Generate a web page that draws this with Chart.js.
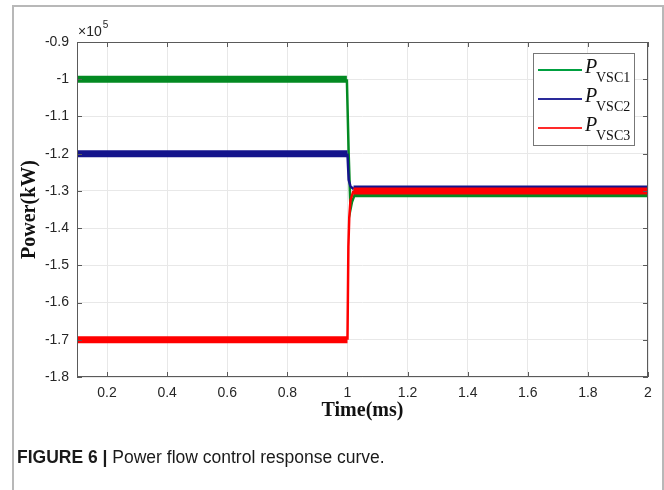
<!DOCTYPE html>
<html>
<head>
<meta charset="utf-8">
<script src="https://cdn.jsdelivr.net/npm/chart.js@4.4.0/dist/chart.umd.min.js"></script>
<style>
  html, body { margin: 0; padding: 0; background: #fff; }
  #wrap { position: relative; width: 664px; height: 490px; overflow: hidden; }
  #frame { position: absolute; left: 12px; top: 5px; width: 648px; height: 520px;
           border: 2px solid #b8b8b8; border-bottom: none; }
  #graph { position: absolute; left: 0; top: 0; }
  #caption { position: absolute; left: 17px; top: 447px; font: 17.5px "Liberation Sans", Arial, sans-serif;
             color: #1a1a1a; white-space: nowrap; }
  #caption b { font-weight: bold; }
</style>
</head>
<body>
<div id="wrap">
  <div id="frame"></div>
  <canvas id="graph" width="664" height="490"></canvas>
  <div id="caption"><b>FIGURE 6 |</b> Power flow control response curve.</div>
</div>
<script>
// tick values
const xTicks = [0.2, 0.4, 0.6, 0.8, 1, 1.2, 1.4, 1.6, 1.8, 2];
const yTicks = [-0.9, -1, -1.1, -1.2, -1.3, -1.4, -1.5, -1.6, -1.7, -1.8];

// series (units of 1e5 kW)
const timeVsc1 = [0.1, 0.998, 1.004, 1.01, 1.015, 1.025, 2];
const powerVsc1 = [-1.0, -1.0, -1.2, -1.35, -1.33, -1.308, -1.308];

const timeVsc2 = [0.1, 1.0, 1.004, 1.01, 1.02, 2];
const powerVsc2 = [-1.2, -1.2, -1.27, -1.288, -1.295, -1.295];

const timeVsc3 = [0.1, 1.0, 1.003, 1.006, 1.01, 1.02, 2];
const powerVsc3 = [-1.7, -1.7, -1.45, -1.37, -1.325, -1.3, -1.3];

const legendNames = ["VSC1", "VSC2", "VSC3"];

const toPoints = (ts, ps) => ts.map((t, i) => ({ x: t, y: ps[i] }));

// flat stretches carry the switching ripple, drawn as a thick band
const bandWidth = ctx => ctx.p0.parsed.y === ctx.p1.parsed.y ? 7 : 2.5;

function series(data, color, order) {
  return {
    data: data,
    borderColor: color,
    borderWidth: 2,
    borderCapStyle: "butt",
    pointRadius: 0,
    tension: 0,
    order: order,
    segment: { borderWidth: bandWidth }
  };
}

const datasets = [
  series(toPoints(timeVsc1, powerVsc1), "#038a22", 2),
  series(toPoints(timeVsc2, powerVsc2), "#14148c", 1),
  series(toPoints(timeVsc3, powerVsc3), "#ff0000", 0)
];
const legendColors = ["#00a040", "#2a2a9a", "#ff2a2a"];

const tickFont = { family: "'Liberation Sans', Arial, sans-serif", size: 14 };

const decor = {
  id: "decor",
  afterDatasetsDraw(chart) {
    const { ctx, chartArea: a, scales: { x, y } } = chart;
    ctx.save();

    // axes box with inward ticks
    ctx.strokeStyle = "#5a5a5a";
    ctx.lineWidth = 1;
    ctx.strokeRect(a.left + 0.5, a.top + 0.5, a.right - a.left - 1, a.bottom - a.top - 1);
    ctx.beginPath();
    xTicks.forEach(v => {
      const px = Math.round(x.getPixelForValue(v)) + 0.5;
      ctx.moveTo(px, a.bottom); ctx.lineTo(px, a.bottom - 5);
      ctx.moveTo(px, a.top); ctx.lineTo(px, a.top + 5);
    });
    yTicks.forEach(v => {
      const py = Math.round(y.getPixelForValue(v)) + 0.5;
      ctx.moveTo(a.left, py); ctx.lineTo(a.left + 5, py);
      ctx.moveTo(a.right, py); ctx.lineTo(a.right - 5, py);
    });
    ctx.stroke();

    // legend
    const lx = 533, ly = 53, lw = 101, lh = 92;
    ctx.fillStyle = "#fff";
    ctx.fillRect(lx, ly, lw, lh);
    ctx.strokeStyle = "#777";
    ctx.strokeRect(lx + 0.5, ly + 0.5, lw, lh);
    legendNames.forEach((name, i) => {
      const yy = 70 + i * 29;
      ctx.strokeStyle = legendColors[i];
      ctx.lineWidth = 2;
      ctx.beginPath();
      ctx.moveTo(538, yy); ctx.lineTo(582, yy);
      ctx.stroke();
      ctx.fillStyle = "#111";
      ctx.textBaseline = "alphabetic";
      ctx.textAlign = "left";
      ctx.font = "italic 20px 'Liberation Serif', 'Times New Roman', serif";
      ctx.fillText("P", 585, yy + 3);
      ctx.font = "14px 'Liberation Serif', 'Times New Roman', serif";
      ctx.fillText(name, 596, yy + 12);
    });

    // axis titles
    ctx.fillStyle = "#111";
    ctx.font = "bold 20px 'Liberation Serif', 'Times New Roman', serif";
    ctx.textAlign = "center";
    ctx.textBaseline = "middle";
    ctx.fillText("Time(ms)", (a.left + a.right) / 2, 411);
    ctx.save();
    ctx.translate(30, (a.top + a.bottom) / 2);
    ctx.rotate(-Math.PI / 2);
    ctx.fillText("Power(kW)", 0, 0);
    ctx.restore();

    // exponent
    ctx.fillStyle = "#262626";
    ctx.textAlign = "left";
    ctx.textBaseline = "alphabetic";
    ctx.font = "14px 'Liberation Sans', Arial, sans-serif";
    ctx.fillText("\u00d710", 78, 36);
    const w = ctx.measureText("\u00d710").width;
    ctx.font = "10px 'Liberation Sans', Arial, sans-serif";
    ctx.fillText("5", 78 + w + 1, 28);

    ctx.restore();
  }
};

new Chart(document.getElementById("graph"), {
  type: "line",
  data: { datasets: datasets },
  options: {
    responsive: false,
    animation: false,
    events: [],
    layout: { padding: { left: 0, top: 42, right: 16, bottom: 0 } },
    plugins: { legend: { display: false }, tooltip: { enabled: false } },
    scales: {
      x: {
        type: "linear",
        min: 0.1,
        max: 2,
        afterBuildTicks: s => { s.ticks = xTicks.map(v => ({ value: v })); },
        afterFit: s => { s.height = 113; },
        border: { display: false },
        grid: { color: "#e8e8e8", drawTicks: false },
        ticks: {
          padding: 8,
          font: tickFont,
          color: "#262626",
          maxRotation: 0,
          autoSkip: false,
          callback: v => String(v)
        }
      },
      y: {
        type: "linear",
        min: -1.8,
        max: -0.9,
        afterBuildTicks: s => { s.ticks = yTicks.map(v => ({ value: v })); },
        afterFit: s => { s.width = 77; },
        border: { display: false },
        grid: { color: "#e8e8e8", drawTicks: false },
        ticks: {
          padding: 8,
          font: tickFont,
          color: "#262626",
          autoSkip: false,
          callback: v => String(Number(v.toFixed(1)))
        }
      }
    }
  },
  plugins: [decor]
});
</script>
</body>
</html>
